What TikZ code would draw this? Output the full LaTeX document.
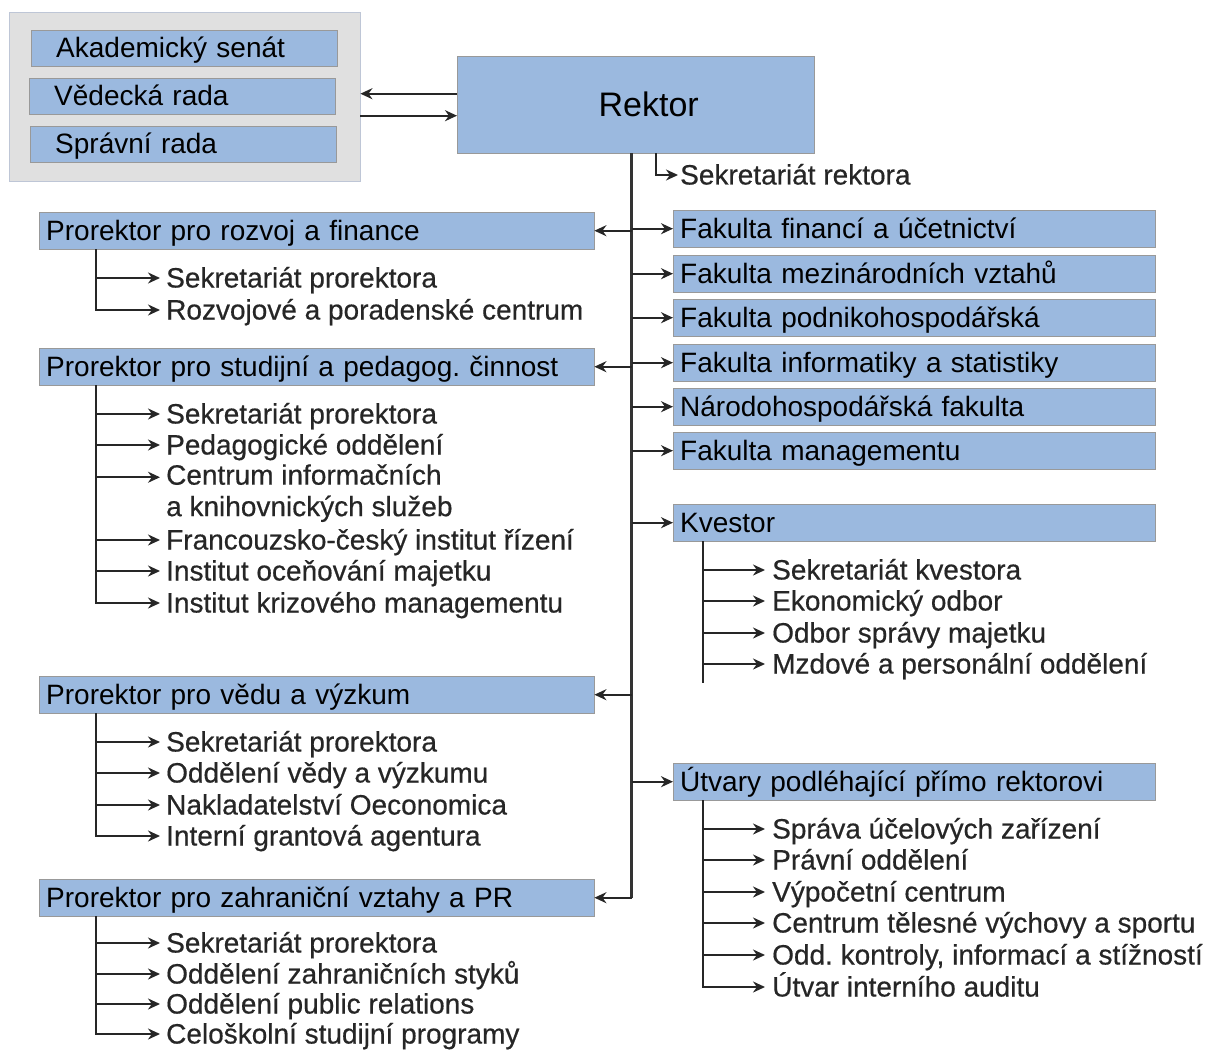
\documentclass[tikz,border=0pt]{standalone}
\usepackage{fontspec}
\setmainfont{Liberation Sans}
\newfontfamily\itemfont{Liberation Sans}[FakeBold=0.5]
\usetikzlibrary{arrows.meta}
\definecolor{unitblue}{RGB}{155,185,223}
\definecolor{panelgrey}{RGB}{224,224,224}
\definecolor{paneledge}{RGB}{190,198,214}
\frenchspacing
\begin{document}
\begin{tikzpicture} [
        x=1pt, y=-1pt,
        font=\fontsize{28}{31.5}\selectfont,
        unit/.style={draw=black!40, fill=unitblue, minimum height=37pt, inner xsep=7pt, inner ysep=0pt,
            text height=22pt, text depth=3pt, text width=#1, align=left, anchor=north west},
        council/.style={unit=256pt, inner xsep=25pt, minimum height=36pt},
        item/.style={anchor=west, inner xsep=6pt, inner ysep=0pt, text height=22pt, text depth=3pt,
            text=black!85, font=\fontsize{28}{31.5}\itemfont},
        link/.style={draw, line width=2.2pt, black!85, -{Stealth[length=12pt,width=11pt]}},
        trunk/.style={draw, line width=3pt, black!80},
    ]
    \useasboundingbox (0,0) rectangle (1207,1051);
    % boards
    \node[fill=panelgrey, draw=paneledge, minimum width=351pt, minimum height=169pt, anchor=north west] (rady) at (9,12) {};
    \foreach \x/\y/\name/\txt in {
            31/30/senat/Akademický senát, 29/78/vedrada/Vědecká rada, 30/126/spravrada/Správní rada}
        \node[council] (\name) at (\x,\y) {\txt};
    \node[draw=black!40, fill=unitblue, minimum width=357pt, minimum height=97pt, anchor=north west,
        font=\fontsize{34}{40}\selectfont] (rektor) at (457,56) {\hspace*{26pt}Rektor};
    \path ([yshift=11pt]rektor.west) coordinate (r1) ([yshift=-11pt]rektor.west) coordinate (r2);
    \draw[link] (r1) -- (r1 -| rady.east);
    \draw[link] (r2 -| rady.east) -- (r2);
    \node[item, inner xsep=2pt] (sekrrek) at (678,175) {Sekretariát rektora};
    \draw[link] ([xshift=20pt]rektor.south) |- (sekrrek.west);
    % units
    \foreach \y/\name/\txt in {
            210/ffu/Fakulta financí a účetnictví, 255/fmv/Fakulta mezinárodních vztahů,
            299/fph/Fakulta podnikohospodářská, 344/fis/Fakulta informatiky a statistiky,
            388/nf/Národohospodářská fakulta, 432/fm/Fakulta managementu,
            504/kvestor/Kvestor, 763/utvary/Útvary podléhající přímo rektorovi}
        \node[unit=468pt] (\name) at (673,\y) {\txt};
    \foreach \y/\name/\txt in {
            212/rozvoj/Prorektor pro rozvoj a finance, 348/studium/Prorektor pro studijní a pedagog. činnost,
            676/veda/Prorektor pro vědu a výzkum, 879/zahranici/Prorektor pro zahraniční vztahy a PR}
        \node[unit=541pt] (\name) at (39,\y) {\txt};
    \coordinate (trunk top) at ([xshift=-4pt]rektor.south);
    \coordinate (trunk end) at (trunk top |- zahranici.east);
    \draw[trunk] (trunk top) -- (trunk end);
    \draw[link] (trunk end) -- (zahranici.east);
    \foreach \name in {ffu,fmv,fph,fis,nf,fm,kvestor,utvary}
        \draw[link] (trunk top |- \name.west) -- (\name.west);
    \foreach \name in {rozvoj,studium,veda}
        \draw[link] (trunk top |- \name.east) -- (\name.east);
    % sections
    \foreach \y/\txt [count=\i] in {278/Sekretariát prorektora, 310/Rozvojové a poradenské centrum} {
        \node[item] (rozvoj-\i) at (160,\y) {\txt};
        \draw[link] ([xshift=57pt]rozvoj.south west) |- (rozvoj-\i.west);
    }
    \foreach \y/\txt [count=\i] in {
            414/Sekretariát prorektora, 445/Pedagogické oddělení, 540/Francouzsko-český institut řízení,
            571/Institut oceňování majetku, 603/Institut krizového managementu} {
        \node[item] (studium-\i) at (160,\y) {\txt};
        \draw[link] ([xshift=57pt]studium.south west) |- (studium-\i.west);
    }
    \node[item, text height=, text depth=, align=left] (studium-cik) at (160,493) {Centrum informačních\\a knihovnických služeb};
    \draw[link] ([xshift=57pt]studium.south west) |- ([yshift=15.75pt]studium-cik.west);
    \foreach \y/\txt [count=\i] in {
            742/Sekretariát prorektora, 773/Oddělení vědy a výzkumu,
            805/Nakladatelství Oeconomica, 836/Interní grantová agentura} {
        \node[item] (veda-\i) at (160,\y) {\txt};
        \draw[link] ([xshift=57pt]veda.south west) |- (veda-\i.west);
    }
    \foreach \y/\txt [count=\i] in {
            943/Sekretariát prorektora, 974/Oddělení zahraničních styků,
            1004/Oddělení public relations, 1034/Celoškolní studijní programy} {
        \node[item] (zahranici-\i) at (160,\y) {\txt};
        \draw[link] ([xshift=57pt]zahranici.south west) |- (zahranici-\i.west);
    }
    \foreach \y/\txt [count=\i] in {
            570/Sekretariát kvestora, 601/Ekonomický odbor,
            633/Odbor správy majetku, 664/Mzdové a personální oddělení} {
        \node[item, inner xsep=7pt] (kvestor-\i) at (765,\y) {\txt};
        \draw[link] ([xshift=30pt]kvestor.south west) |- (kvestor-\i.west);
    }
    \coordinate (kvestor end) at ([xshift=30pt]kvestor.south west |- 0,683);
    \draw[line width=2.2pt, black!85] ([xshift=30pt]kvestor.south west) -- (kvestor end);
    \foreach \y/\txt [count=\i] in {
            829/Správa účelových zařízení, 860/Právní oddělení, 892/Výpočetní centrum,
            923/Centrum tělesné výchovy a sportu, 955/Odd. kontroly{,} informací a stížností,
            987/Útvar interního auditu} {
        \node[item, inner xsep=7pt] (utvary-\i) at (765,\y) {\txt};
        \draw[link] ([xshift=30pt]utvary.south west) |- (utvary-\i.west);
    }
\end{tikzpicture}
\end{document}
